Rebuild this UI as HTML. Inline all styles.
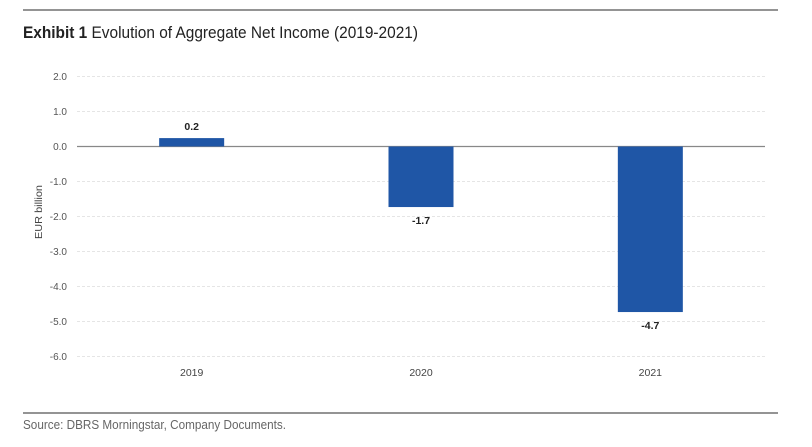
<!DOCTYPE html>
<html><head><meta charset="utf-8"><style>
html,body{margin:0;padding:0;background:#fff;}
svg{display:block;font-family:"Liberation Sans",sans-serif;}
</style></head><body>
<svg id="chart" width="812" height="447" viewBox="0 0 812 447">
<line x1="23" y1="10" x2="778" y2="10" stroke="#555" stroke-width="1.2"/>
<text x="23" y="38" font-size="17" fill="#222" textLength="395" lengthAdjust="spacingAndGlyphs"><tspan font-weight="bold">Exhibit 1</tspan>  Evolution of Aggregate Net Income (2019-2021)</text>
<g id="grid"></g>
<g id="bars"></g>
<text x="0" y="0" transform="translate(42,212) rotate(-90)" text-anchor="middle" font-size="10.5" fill="#444" textLength="54" lengthAdjust="spacingAndGlyphs">EUR billion</text>
<line x1="23" y1="413" x2="778" y2="413" stroke="#555" stroke-width="1.2"/>
<text x="23" y="429" font-size="12.5" fill="#666" textLength="263" lengthAdjust="spacingAndGlyphs">Source: DBRS Morningstar, Company Documents.</text>
</svg>
<script>
const categories = ["2019","2020","2021"];
const values = [0.24, -1.73, -4.73];
const valueLabels = ["0.2","-1.7","-4.7"];
const yTicks = [2,1,0,-1,-2,-3,-4,-5,-6];
const yTickLabels = ["2.0","1.0","0.0","-1.0","-2.0","-3.0","-4.0","-5.0","-6.0"];

const NS="http://www.w3.org/2000/svg";
const plotX0=77, plotX1=765, yMax=2, yMin=-6, plotTop=76.5, plotBottom=356.5;
function yScale(v){return plotTop+(yMax-v)/(yMax-yMin)*(plotBottom-plotTop);}
function xc(i){const w=(plotX1-plotX0)/categories.length;return plotX0+w*(i+0.5);}
function mk(tag,attrs,parent){const e=document.createElementNS(NS,tag);for(const k in attrs)e.setAttribute(k,attrs[k]);parent.appendChild(e);return e;}
const gridG=document.getElementById('grid'), barsG=document.getElementById('bars');
yTicks.forEach((t,i)=>{
  const isZero=t===0;
  const l=mk('line',{x1:plotX0,x2:plotX1,y1:yScale(t),y2:yScale(t),stroke:isZero?'#888':'#ddd','stroke-width':isZero?1.3:0.8,'stroke-dasharray':isZero?'none':'3,2'},gridG);
  
  
  const tx=mk('text',{x:67,y:yScale(t)+3.5,'text-anchor':'end','font-size':10,fill:'#555'},gridG);
  tx.textContent=yTickLabels[i];
  
  
});
const bw=65;
categories.forEach((c,i)=>{
  const v=values[i], cx=xc(i);
  const yt=Math.min(yScale(v),yScale(0)), h=Math.abs(yScale(v)-yScale(0));
  const r=mk('rect',{x:cx-bw/2,y:yt,width:bw,height:h,fill:'#1f56a6'},barsG);
  
  
  const ly = v>=0 ? yScale(v)-8 : yScale(v)+17;
  const lt=mk('text',{x:cx,y:ly,'text-anchor':'middle','font-size':10.5,'font-weight':'bold',fill:'#222'},barsG);
  lt.textContent=valueLabels[i];
  
  
  const xt=mk('text',{x:cx,y:376,'text-anchor':'middle','font-size':10.5,fill:'#444'},barsG);
  xt.textContent=c;
  
  
});
</script>
</body></html>
